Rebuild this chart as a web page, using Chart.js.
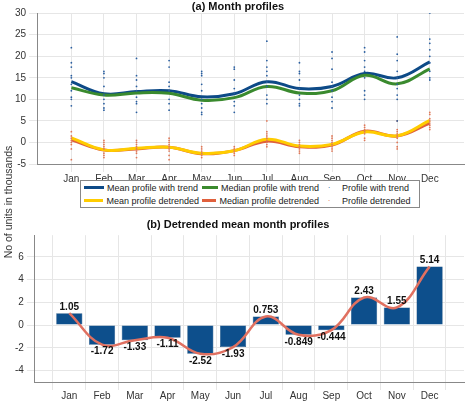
<!DOCTYPE html><html><head><meta charset="utf-8">
<script src="https://cdn.jsdelivr.net/npm/chart.js@4"></script>
<style>
body{margin:0;width:474px;height:402px;background:#fff;position:relative;overflow:hidden;font-family:"Liberation Sans",Arial,sans-serif}
canvas{position:absolute;left:0}
#c1{top:0}#c2{top:216px}
#ylab{position:absolute;left:-62px;top:196px;width:140px;text-align:center;transform:rotate(-90deg);font-size:10.5px;color:#333}
#leg{position:absolute;left:80px;top:180px;width:338px;height:26px;border:1px solid #888;background:#fff;font-size:9px;color:#222;display:grid;grid-template-columns:118px 120px 100px;grid-template-rows:13px 13px;align-items:center}
#leg div{display:flex;align-items:center;white-space:nowrap}
.ln{display:inline-block;width:20px;height:3px;margin:0 3px 0 3px}
.dt{display:inline-block;width:20px;text-align:center;margin-right:3px;font-size:8px}
</style></head><body>
<canvas id="c1" width="474" height="210"></canvas>
<canvas id="c2" width="474" height="186"></canvas>
<div id="ylab">No of units in thousands</div>
<div id="leg">
<div><span class="ln" style="background:#0d4a87"></span>Mean profile with trend</div>
<div><span class="ln" style="background:#3a8a2e"></span>Median profile with trend</div>
<div><span class="dt" style="color:#0d4a87">·</span>Profile with trend</div>
<div><span class="ln" style="background:#ffcc00"></span>Mean profile detrended</div>
<div><span class="ln" style="background:#e0603c"></span>Median profile detrended</div>
<div><span class="dt" style="color:#e0603c">·</span>Profile detrended</div>
</div>
<script>
const months=["Jan","Feb","Mar","Apr","May","Jun","Jul","Aug","Sep","Oct","Nov","Dec"];
const meanTrend=[14.1,11.3,11.8,12.0,10.6,11.3,14.1,12.5,13.0,16.0,15.0,18.7];
const medianTrend=[12.7,11.0,11.5,11.4,9.8,10.4,13.0,11.5,12.0,15.6,13.6,17.1];
const meanDetrended=[1.05,-1.72,-1.33,-1.11,-2.52,-1.93,0.753,-0.849,-0.444,2.43,1.55,5.14];
const medianDetrended=[0.6,-1.75,-1.5,-1.1,-2.6,-1.9,0.3,-1.0,-0.6,2.6,1.5,4.5];
const profileTrend=[[22,18.5,17.5,15.5,15,13.5,12,10.5,10,8.5],[16.5,16,15,13,11,10,9,8,7.5],[19.5,15.5,14.5,13,12,10.5,9.5,9,7],[19,17.5,14,13,12,10,9,7.5],[16.5,16,15.5,13.5,12,10,9,8,7,6.5],[17.5,17,14.5,12.5,11.5,9.5,8.5,7],[23.5,19,17.5,16.5,15.5,14,13,11,10,9],[18.5,16.5,16,14.5,12.5,11,10,9,8.5],[21,19.5,17,14,13,12,10.5,9.5,8],[22,21,19,17.5,16.5,15,12,11,10],[24.5,20.5,19,16.5,15,13.5,12.5,11,10,5],[30,24,23,21.5,20,18.5,16.5,15,14.5]];
const profileDetrended=[[2.5,1.5,1,0.5,0,-0.5,-1.5,-4],[0.5,0,-0.5,-1,-1.5,-2.5,-3,-3.5],[0.5,0,-0.5,-1,-1.5,-2,-2.5,-3.5],[1,0.5,0,-0.5,-1,-1.5,-2,-3,-4],[-1,-1.5,-2,-2.5,-3,-3.5],[-1,-1.5,-2,-2.5,-3],[5,2.5,2,1.5,1,0.5,0,-0.5,-1],[0.5,0,-0.5,-1,-1.5,-2,-2.5],[1.5,1,0.5,0,-0.5,-1,-1.5,-2],[4,3.5,3,2.5,2,1,0.5],[5,3,2.5,2,1.5,1,0,-1,-1.5],[7,6.5,5.5,5,4.5,4,3.5,3]];
const barLabels=["1.05","-1.72","-1.33","-1.11","-2.52","-1.93","0.753","-0.849","-0.444","2.43","1.55","5.14"];

const pts=a=>a.map((v,i)=>({x:i+1,y:v}));
const scat=a=>a.flatMap((col,i)=>col.map(v=>({x:i+1,y:v})));
const grid={color:'#e6e6e6'};
const tickF={font:{size:10,family:'Liberation Sans'},color:'#333'};
const xAxis={type:'linear',min:-0.05,max:13.05,grid:grid,border:{color:'#888'},
  afterBuildTicks:ax=>{ax.ticks=months.map((m,i)=>({value:i+1}));},
  ticks:{...tickF,autoSkip:false,maxRotation:0,padding:1,callback:(v)=>months[v-1]||''}};
Chart.defaults.animation=false;
const lineDs=(d,c)=>({type:'line',data:pts(d),borderColor:c,borderWidth:3,pointRadius:0,tension:0.4,fill:false});
new Chart(document.getElementById('c1'),{type:'scatter',
 data:{datasets:[
  {data:scat(profileTrend),backgroundColor:'#2a5fa0',pointRadius:0.9,borderWidth:0},
  {data:scat(profileDetrended),backgroundColor:'#e07858',pointRadius:0.9,borderWidth:0},
  lineDs(meanDetrended,'#ffcc00'),lineDs(medianDetrended,'#e0603c'),
  lineDs(medianTrend,'#3a8a2e'),lineDs(meanTrend,'#0d4a87')]},
 options:{responsive:false,layout:{padding:{left:12,right:10,top:0,bottom:24}},
  plugins:{legend:{display:false},tooltip:{enabled:false},title:{display:true,text:'(a) Month profiles',font:{size:11,weight:'bold',family:'Liberation Sans'},color:'#111',padding:{top:0,bottom:0}}},
  scales:{x:xAxis,y:{min:-5,max:30,grid:grid,border:{color:'#888'},ticks:{...tickF,stepSize:5}}}}});

const barLbl={id:'bl',afterDatasetsDraw(ch){const ctx=ch.ctx;const m=ch.getDatasetMeta(1);ctx.save();ctx.font='bold 10px Liberation Sans';ctx.fillStyle='#111';ctx.textAlign='center';
 m.data.forEach((b,i)=>{const v=meanDetrended[i];if(v>=0){ctx.textBaseline='bottom';ctx.fillText(barLabels[i],b.x,b.y-1);}else{ctx.textBaseline='top';ctx.fillText(barLabels[i],b.x,b.y+2);}});ctx.restore();}};
new Chart(document.getElementById('c2'),{type:'bar',
 data:{datasets:[
  {type:'line',data:pts(meanDetrended),borderColor:'#e07060',borderWidth:2.5,pointRadius:0,tension:0.4,order:0},
  {type:'bar',data:pts(meanDetrended),backgroundColor:'#0d4f8c',borderColor:'#0a3f70',borderWidth:0.5,barPercentage:0.8,categoryPercentage:1,order:1}]},
 options:{responsive:false,layout:{padding:{left:12,right:10,top:0,bottom:0}},
  plugins:{legend:{display:false},tooltip:{enabled:false},title:{display:true,text:'(b) Detrended mean month profiles',font:{size:11,weight:'bold',family:'Liberation Sans'},color:'#111',padding:{top:2,bottom:4}}},
  scales:{x:{...xAxis,offset:false,ticks:{...xAxis.ticks,padding:0}},y:{min:-5,max:7.9,grid:grid,border:{color:'#888'},afterBuildTicks:ax=>{ax.ticks=[-4,-2,0,2,4,6].map(v=>({value:v}));},ticks:{...tickF}}}},
 plugins:[barLbl]});
</script></body></html>
